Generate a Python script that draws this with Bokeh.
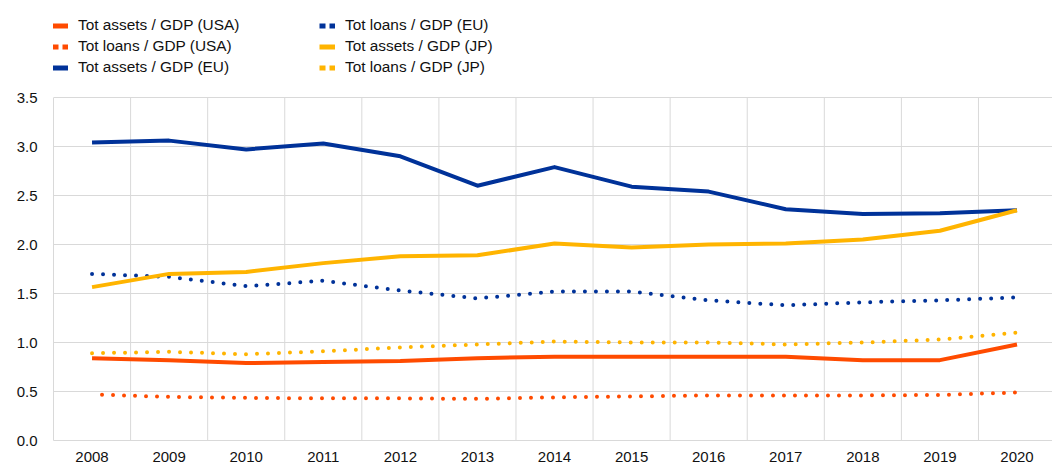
from bokeh.plotting import figure
from bokeh.models import Legend, LegendItem, FixedTicker, Range1d, NumeralTickFormatter
from bokeh.embed import file_html
from bokeh.resources import INLINE

years = [2008, 2009, 2010, 2011, 2012, 2013, 2014, 2015, 2016, 2017, 2018, 2019, 2020]
usa_assets = [0.84, 0.82, 0.79, 0.80, 0.81, 0.84, 0.855, 0.855, 0.855, 0.855, 0.82, 0.82, 0.98]
usa_loans = [0.47, 0.445, 0.435, 0.43, 0.43, 0.425, 0.44, 0.45, 0.46, 0.46, 0.46, 0.465, 0.49]
eu_assets = [3.04, 3.06, 2.97, 3.03, 2.90, 2.60, 2.79, 2.59, 2.54, 2.36, 2.31, 2.32, 2.35]
eu_loans = [1.70, 1.67, 1.575, 1.63, 1.53, 1.45, 1.52, 1.52, 1.43, 1.38, 1.41, 1.43, 1.46]
jp_assets = [1.565, 1.70, 1.72, 1.81, 1.88, 1.89, 2.01, 1.97, 2.00, 2.01, 2.05, 2.14, 2.35]
jp_loans = [0.89, 0.905, 0.88, 0.91, 0.95, 0.98, 1.01, 1.00, 1.00, 0.98, 1.00, 1.03, 1.10]
y_ticks = [0.0, 0.5, 1.0, 1.5, 2.0, 2.5, 3.0, 3.5]
labels = ["Tot assets / GDP (USA)", "Tot loans / GDP (USA)", "Tot assets / GDP (EU)",
          "Tot loans / GDP (EU)", "Tot assets / GDP (JP)", "Tot loans / GDP (JP)"]

ORANGE = "#FF4B00"
BLUE = "#003299"
YELLOW = "#FFB400"
GRID = "#d9d9d9"
FONT = "Liberation Sans"
TEXT = "#111111"

W, H = 1052, 464
LEFT, BOTTOM = 53, 24
frame_h = H - BOTTOM            # frame spans whole height so the legend sits inside it
top_px = 97                      # pixel row of the 3.5 gridline
y_max = y_ticks[-1] * frame_h / (frame_h - top_px)
x_end = 2007.5 + (W - LEFT) / 77.08

p = figure(width=W, height=H, output_backend="svg", toolbar_location=None,
           x_range=Range1d(2007.5, x_end), y_range=Range1d(0, y_max),
           min_border_left=LEFT, min_border_right=0, min_border_top=0, min_border_bottom=BOTTOM)
p.outline_line_color = None
p.background_fill_color = "white"
p.border_fill_color = "white"

# vertical grid lines between years, limited to the 0..3.5 band
bounds = [y + 0.5 for y in years[:-1]]
p.segment(x0=bounds, x1=bounds, y0=[y_ticks[0]] * len(bounds), y1=[y_ticks[-1]] * len(bounds),
          line_color=GRID, line_width=1)
p.xgrid.grid_line_color = None
p.ygrid.ticker = FixedTicker(ticks=y_ticks)
p.ygrid.grid_line_color = GRID

series = [(usa_assets, ORANGE, False), (usa_loans, ORANGE, True),
          (eu_assets, BLUE, False), (eu_loans, BLUE, True),
          (jp_assets, YELLOW, False), (jp_loans, YELLOW, True)]

swatches = []
for i, (vals, col, dotted) in enumerate(series):
    if dotted:
        p.line(years, vals, line_color=col, line_width=4, line_dash="0 11",
               line_cap="round", line_dash_offset=(1 if i == 1 else 0))
        # legend swatch (hidden copy of the series): two small squares
        sw = p.line(years, vals, line_color=col, line_width=5, line_dash="6 4",
                    line_cap="butt", visible=False)
    else:
        p.line(years, vals, line_color=col, line_width=4, line_join="round")
        sw = p.line(years, vals, line_color=col, line_width=5, visible=False)
    swatches.append(sw)

# axes
p.xaxis.ticker = FixedTicker(ticks=years)
p.yaxis.ticker = FixedTicker(ticks=y_ticks)
p.yaxis.formatter = NumeralTickFormatter(format="0.0")
p.yaxis.bounds = (y_ticks[0], y_ticks[-1])
for ax in (p.xaxis[0], p.yaxis[0]):
    ax.axis_line_color = GRID
    ax.major_tick_line_color = None
    ax.minor_tick_line_color = None
    ax.major_label_text_font = FONT
    ax.major_label_text_font_size = "15px"
    ax.major_label_text_color = TEXT
p.xaxis.major_label_standoff = 5
p.yaxis.major_label_standoff = 10

def make_legend(idx, x):
    items = [LegendItem(label=labels[i], renderers=[swatches[i]]) for i in idx]
    lg = Legend(items=items, location=(x, frame_h - 77.5), orientation="vertical")
    lg.label_text_font = FONT
    lg.label_text_font_size = "15.4px"
    lg.label_text_color = TEXT
    lg.glyph_width = 16
    lg.glyph_height = 21
    lg.label_height = 21
    lg.label_standoff = 10
    lg.spacing = 0
    lg.padding = 0
    lg.margin = 0
    lg.border_line_color = None
    lg.background_fill_alpha = 0
    return lg

p.add_layout(make_legend([0, 1, 2], -1), "center")
p.add_layout(make_legend([3, 4, 5], 266), "center")

open("out.html", "w").write(file_html(p, INLINE))
